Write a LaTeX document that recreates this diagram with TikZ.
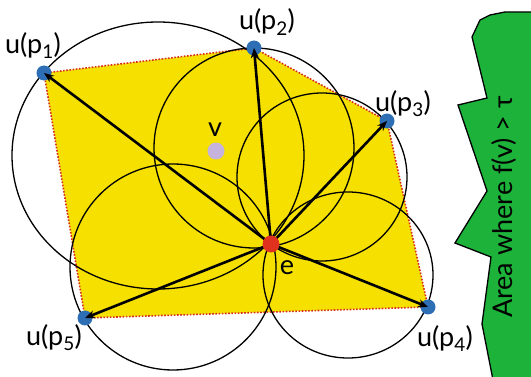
\documentclass[tikz,border=0pt]{standalone}
\usepackage{fontspec}
\setmainfont{Lato}
\usetikzlibrary{arrows.meta,positioning}
\definecolor{areayellow}{RGB}{245,224,0}
\definecolor{edgered}{RGB}{214,43,30}
\definecolor{ublue}{RGB}{46,110,180}
\definecolor{ered}{RGB}{224,48,30}
\definecolor{vlilac}{RGB}{197,179,221}
\definecolor{zonegreen}{RGB}{29,179,58}
\tikzset{
    area/.style={fill=areayellow, draw=edgered, line width=1.6pt, dash pattern=on 1.6pt off 1.6pt},
    ring/.style={draw=black, line width=1.3pt},
    upt/.style={circle, fill=ublue, minimum size=15pt, inner sep=0pt},
    ept/.style={circle, fill=ered, minimum size=17pt, inner sep=0pt},
    vpt/.style={circle, fill=vlilac, minimum size=17pt, inner sep=0pt},
    arr/.style={-{Stealth[length=10pt,width=8pt]}, line width=2.6pt, draw=black},
    zone/.style={fill=zonegreen, draw=black, line width=1.3pt}
}
\begin{document}
\begin{tikzpicture}[x=1pt, y=-1pt, font=\fontsize{27}{30}\selectfont]
        \useasboundingbox (0,0) rectangle (531,377);

        % Points
        \coordinate (e) at (271,244);
        \coordinate (p1) at (44,73);
        \coordinate (p2) at (254,48);
        \coordinate (p3) at (387,121);
        \coordinate (p4) at (428,307);
        \coordinate (p5) at (85,318);

        % Yellow area
        \path[area] (p1) -- (p2) -- (p3) -- (p4) -- (p5) -- cycle;

        % Circles
        \draw[ring] (158,155.5) ellipse [x radius=146pt, y radius=133.5pt];
        \draw[ring] (254,148) ellipse [x radius=100pt, y radius=100pt];
        \draw[ring] (322,177) ellipse [x radius=85pt, y radius=84pt];
        \draw[ring] (348,275) ellipse [x radius=85pt, y radius=83pt];
        \draw[ring] (173,267) circle [radius=103pt];

        % Dots
        \node (u1) [upt] at (p1) {};
        \node (u2) [upt] at (p2) {};
        \node (u3) [upt] at (p3) {};
        \node (u4) [upt] at (p4) {};
        \node (u5) [upt] at (p5) {};
        \node (v) [vpt] at (216,151) {};

        % Arrows
        \draw[arr] (e) -- (p1);
        \draw[arr] (e) -- (p2);
        \draw[arr] (e) -- (p3);
        \draw[arr] (e) -- (p4);
        \draw[arr] (e) -- (p5);
        \node (en) [ept] at (e) {};

        % Labels
        \node (l1) at (33,46) {u(p\textsubscript{1})};
        \node (l2) at (267,22) {u(p\textsubscript{2})};
        \node (l3) at (403,104) {u(p\textsubscript{3})};
        \node (l4) at (445,339) {u(p\textsubscript{4})};
        \node (l5) at (54,338) {u(p\textsubscript{5})};
        \node (le) at (287,268) {e};
        \node (lv) at (215,130) {v};

        % Area where f(v) > tau
        \begin{scope}
            \clip (0,0) rectangle (531,377);
            \path[zone] (545,12) -- (505,12) -- (490,15) -- (480,20) -- (472,37) -- (487,98)
                -- (458,105) -- (487,191) -- (455,243) -- (491,257) -- (482,324)
                -- (494,385) -- (545,385) -- cycle;
        \end{scope}
        \node (zonetext) [rotate=90] at (504,207) {Area where f(v) > τ};
\end{tikzpicture}
\end{document}
